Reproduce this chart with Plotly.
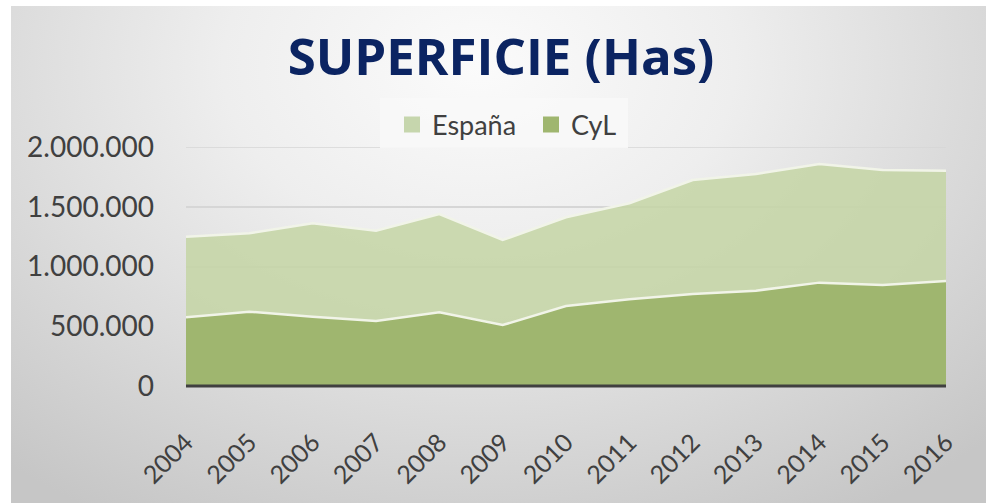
import base64
import plotly.graph_objects as go

years = [2004, 2005, 2006, 2007, 2008, 2009, 2010, 2011, 2012, 2013, 2014, 2015, 2016]
espana = [1250000, 1278000, 1361000, 1300000, 1439000, 1222000, 1412000, 1529000, 1724000, 1774000, 1858000, 1808000, 1802000]
cyl = [575000, 622000, 580000, 544000, 617000, 510000, 670000, 725000, 770000, 798000, 865000, 845000, 879000]
y_ticks = [0, 500000, 1000000, 1500000, 2000000]
series_names = ["España", "CyL"]

W, H = 986, 503
L, R, T, B = 186, 946, 147, 386
pw, ph = R - L, B - T

col_es_fill = "rgba(196,213,165,0.85)"
col_es_leg = "#c6d6ad"
col_cyl = "#9fb66f"
col_edge = "#f1f4e8"

svg = '''<svg xmlns="http://www.w3.org/2000/svg" width="975" height="497" viewBox="0 0 975 497" preserveAspectRatio="none">
<defs><radialGradient id="g" cx="0.48" cy="0.12" r="0.75" gradientTransform="translate(0.48 0.12) scale(1 1.4) translate(-0.48 -0.12)">
<stop offset="0" stop-color="#fbfbfb"/><stop offset="0.35" stop-color="#eeeeee"/><stop offset="1" stop-color="#c6c6c6"/></radialGradient></defs>
<rect width="975" height="497" fill="url(#g)"/></svg>'''
src = "data:image/svg+xml;base64," + base64.b64encode(svg.encode()).decode()

fig = go.Figure()
fig.add_trace(go.Scatter(x=years, y=espana, name=series_names[0], mode="lines", fill="tozeroy",
                         fillcolor=col_es_fill, line=dict(color=col_edge, width=2.5), showlegend=False))
fig.add_trace(go.Scatter(x=years, y=cyl, name=series_names[1], mode="lines", fill="tozeroy",
                         fillcolor=col_cyl, line=dict(color=col_edge, width=2.5), showlegend=False))
for nm, c in zip(series_names, [col_es_leg, col_cyl]):
    fig.add_trace(go.Scatter(x=[None], y=[None], name=nm, mode="markers",
                             marker=dict(symbol="square", size=18, color=c,
                                         line=dict(width=0))))


def px_x(p):
    return (p - L) / pw


def px_y(p):
    return (B - p) / ph


fig.update_layout(
    width=W, height=H,
    margin=dict(l=L, r=W - R, t=T, b=H - B),
    paper_bgcolor="white", plot_bgcolor="rgba(0,0,0,0)",
    separators=",.",
    showlegend=True,
    title=dict(text="<b>SUPERFICIE (Has)</b>", x=501 / W, xanchor="center",
               y=1 - 57 / H, yanchor="middle",
               font=dict(family="Open Sans", size=51, color="#0b2462")),
    legend=dict(orientation="h", x=px_x(392), xanchor="left", y=px_y(125), yanchor="middle",
                bgcolor="rgba(0,0,0,0)", font=dict(family="Lato", size=27, color="#404040"),
                entrywidth=94, entrywidthmode="pixels", traceorder="normal"),
    images=[dict(source=src, xref="paper", yref="paper", x=px_x(11), y=px_y(6),
                 sizex=(W - 11) / pw, sizey=(H - 6) / ph, sizing="stretch",
                 xanchor="left", yanchor="top", layer="below")],
    xaxis=dict(range=[2004, 2016], tickmode="array", tickvals=years, ticktext=[str(y) for y in years],
               tickangle=-45, tickfont=dict(family="Lato", size=25, color="#404040"),
               showgrid=False, zeroline=False, showline=False, ticks="", ticklabelstandoff=36),
    yaxis=dict(range=[0, 2000000], tickmode="array", tickvals=y_ticks, tickformat=",d",
               tickfont=dict(family="Lato", size=28, color="#404040"),
               showgrid=True, gridcolor="#d6d6d6", gridwidth=1.5, zeroline=False,
               showline=False, ticks="", ticklabelstandoff=31),
)
fig.add_shape(type="line", xref="paper", yref="y", x0=0, x1=1, y0=y_ticks[-1], y1=y_ticks[-1],
              line=dict(color="#d6d6d6", width=1.5), layer="below")
fig.add_shape(type="rect", xref="paper", yref="paper", x0=px_x(380), x1=px_x(628),
              y0=px_y(148), y1=px_y(98), fillcolor="rgba(248,248,248,0.9)",
              line=dict(width=0), layer="above")
fig.add_shape(type="line", xref="paper", yref="paper", x0=0, x1=1, y0=0, y1=0,
              line=dict(color="#404040", width=3), layer="above")

fig.write_html("out.html", config={"displayModeBar": False},
               post_script="document.body.style.margin='0';document.body.style.padding='0';")
